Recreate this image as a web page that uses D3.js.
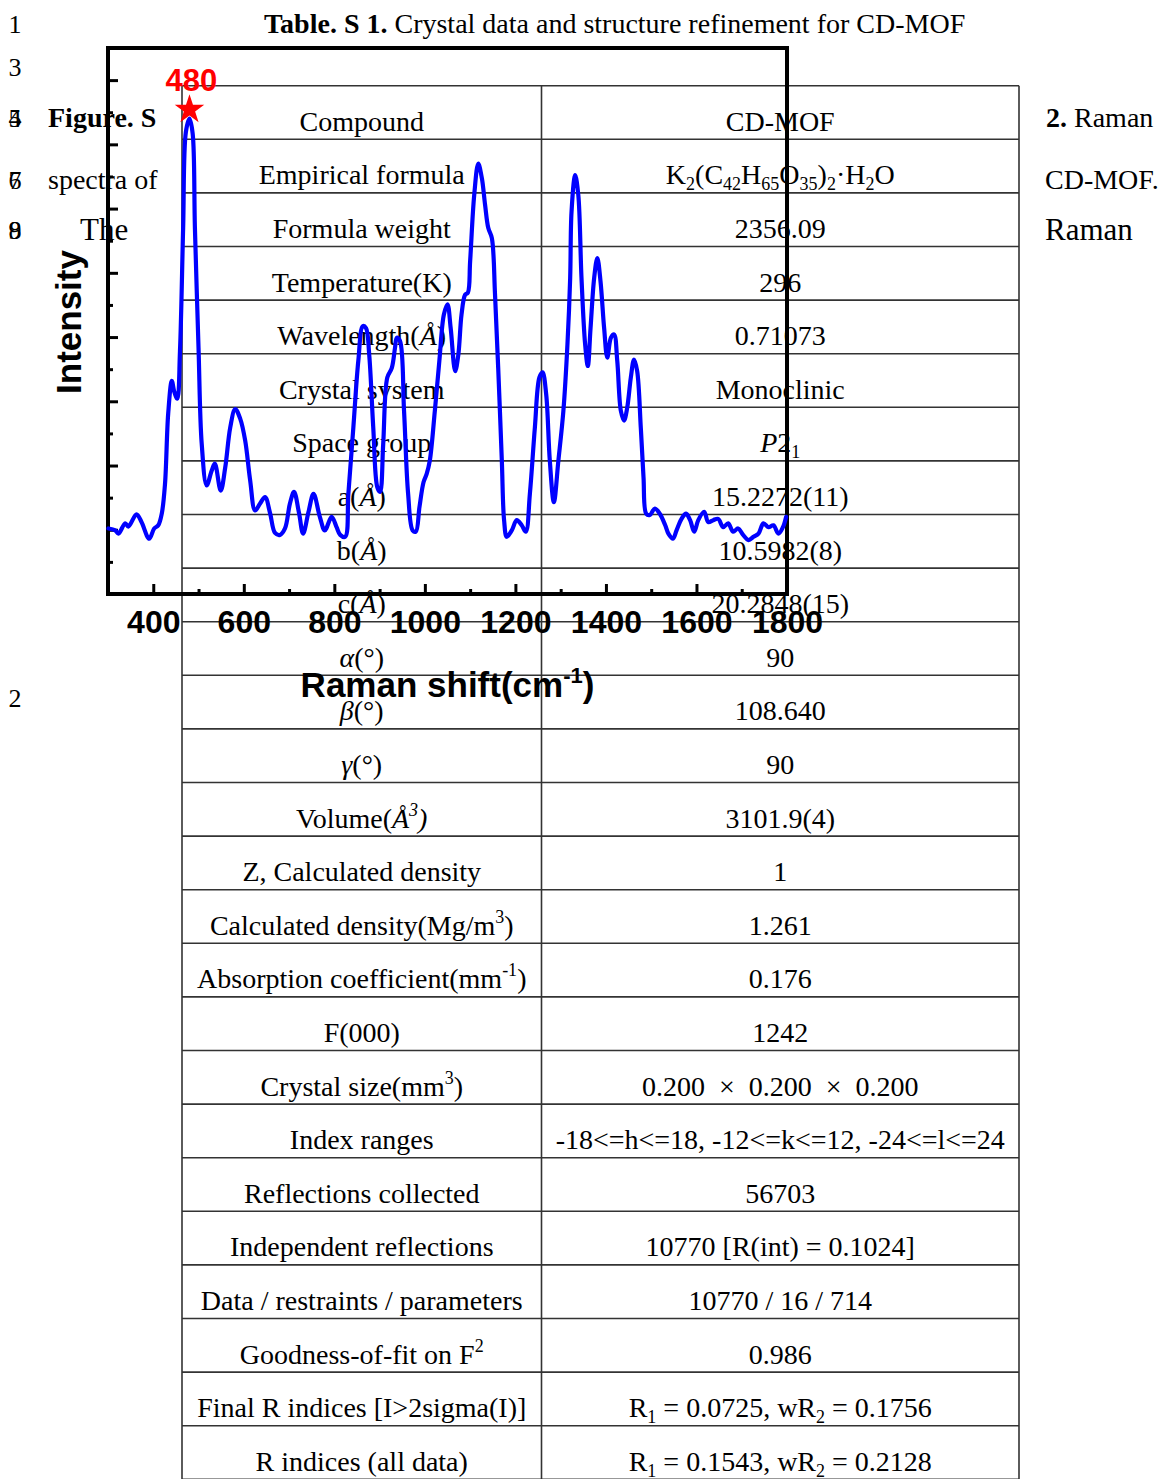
<!DOCTYPE html>
<html>
<head>
<meta charset="utf-8">
<script src="https://cdn.jsdelivr.net/npm/d3@7"></script>
<style>
  body { margin: 0; background: #fff; }
  svg { display: block; }
</style>
</head>
<body>
<svg id="page" width="1162" height="1479"></svg>
<script>
// ---- Raman spectrum of CD-MOF (arbitrary intensity units) ----
const ramanShift = [
  301,316,323,338,345,363,374,391,402,411,
  419,426,433,441,446,453,459,466,472,480,
  487,492,500,507,518,529,536,549,559,570,
  581,592,603,614,625,636,647,658,669,680,
  691,702,711,722,731,743,754,768,779,794,
  805,813,824,831,842,853,863,870,877,886,
  895,901,908,917,927,934,938,945,954,963,
  973,980,988,997,1004,1011,1022,1032,1042,1050,
  1057,1067,1074,1081,1089,1095,1100,1109,1118,1126,
  1133,1140,1148,1155,1162,1170,1175,1181,1192,1203,
  1214,1223,1232,1243,1253,1260,1268,1276,1285,1295,
  1306,1315,1321,1324,1332,1339,1346,1354,1360,1366,
  1374,1381,1388,1396,1403,1411,1418,1425,1433,1440,
  1447,1455,1462,1469,1477,1483,1489,1497,1508,1519,
  1531,1538,1548,1556,1567,1577,1586,1595,1604,1617,
  1626,1637,1648,1659,1670,1681,1692,1703,1715,1726,
  1737,1748,1759,1770,1781,1791,1798
];
const intensity = [
  1.02,0.99,0.94,1.10,1.05,1.24,1.12,0.86,1.02,1.07,
  1.26,1.72,2.81,3.32,3.16,3.04,3.78,5.70,7.19,7.40,
  7.17,5.70,3.83,2.34,1.69,1.92,2.03,1.61,1.97,2.59,
  2.88,2.73,2.39,1.77,1.30,1.41,1.51,1.26,0.95,0.92,
  1.02,1.41,1.59,1.26,0.94,1.28,1.56,1.20,0.99,1.20,
  1.04,0.92,0.89,1.56,2.59,3.63,4.17,4.14,3.73,2.59,
  1.66,1.59,2.34,3.37,3.52,3.83,3.99,3.94,2.85,1.56,
  0.99,0.97,1.35,1.74,1.87,2.08,2.85,3.63,4.35,4.51,
  4.14,3.47,3.73,4.35,4.66,4.69,5.18,6.21,6.70,6.47,
  6.06,5.70,5.54,4.66,3.52,2.08,1.15,0.89,0.99,1.15,
  1.07,0.97,1.56,2.59,3.37,3.45,3.11,2.08,1.43,2.08,
  2.85,3.89,4.92,5.95,6.52,6.21,4.92,3.89,3.55,4.14,
  4.92,5.23,4.87,4.14,3.68,3.99,4.04,3.63,2.85,2.70,
  2.90,3.37,3.65,3.47,2.59,1.82,1.25,1.23,1.33,1.25,
  1.07,0.94,0.86,0.99,1.17,1.25,1.15,0.97,1.15,1.28,
  1.12,1.15,1.17,1.04,1.10,0.97,1.02,0.92,0.84,0.89,
  0.94,1.10,1.04,1.07,0.94,1.04,1.20
];

// Highlighted band
const peakShift = 480;
const peakIntensity = 7.40;

// Axis ticks
const xMajorTicks = [400, 600, 800, 1000, 1200, 1400, 1600, 1800];
const xMinorTicks = [500, 700, 900, 1100, 1300, 1500, 1700];
const yMajorTicks = [1, 2, 3, 4, 5, 6, 7, 8];
const yMinorTicks = [0.5, 1.5, 2.5, 3.5, 4.5, 5.5, 6.5, 7.5];
const xDomain = [300, 1800];
const yDomain = [0, 8.5];
const xTitle = "Raman shift(cm";
const xTitleSup = "-1";
const yTitle = "Intensity";

// ---- Table S1: crystal data (markup: *italic*, _{sub}, ^{sup}) ----
const tableParams = [
  "Compound", "Empirical formula", "Formula weight", "Temperature(K)",
  "Wavelength(*Å*)", "Crystal system", "Space group",
  "a(*Å*)", "b(*Å*)", "c(*Å*)", "*α*(°)", "*β*(°)", "*γ*(°)",
  "Volume(*Å^{3})*", "Z, Calculated density", "Calculated density(Mg/m^{3})",
  "Absorption coefficient(mm^{-1})", "F(000)", "Crystal size(mm^{3})",
  "Index ranges", "Reflections collected", "Independent reflections",
  "Data / restraints / parameters", "Goodness-of-fit on F^{2}",
  "Final R indices [I>2sigma(I)]", "R indices (all data)"
];
const tableValues = [
  "CD-MOF", "K_{2}(C_{42}H_{65}O_{35})_{2}·H_{2}O", "2356.09", "296",
  "0.71073", "Monoclinic", "*P*2_{1}",
  "15.2272(11)", "10.5982(8)", "20.2848(15)", "90", "108.640", "90",
  "3101.9(4)", "1", "1.261", "0.176", "1242",
  "0.200\u00a0\u00a0×\u00a0\u00a00.200\u00a0\u00a0×\u00a0\u00a00.200",
  "-18<=h<=18, -12<=k<=12, -24<=l<=24", "56703", "10770 [R(int) = 0.1024]",
  "10770 / 16 / 714", "0.986",
  "R_{1} = 0.0725, wR_{2} = 0.1756", "R_{1} = 0.1543, wR_{2} = 0.2128"
];

// Surrounding page text: [x, baseline, size, [text, bold]...]
const lineNumbers = [["1", 33], ["3", 76], ["4", 127], ["5", 127], ["6", 189], ["7", 189],
                     ["8", 239], ["9", 239], ["2", 707]];
const titleParts = [["Table. S 1.", true], [" Crystal data and structure refinement for CD-MOF", false]];
const sideTexts = [
  [48, 127, 28, [["Figure. S", true]]],
  [48, 189, 28, [["spectra of", false]]],
  [80, 240, 31, [["The", false]]],
  [1046, 127, 28, [["2.", true], [" Raman", false]]],
  [1045, 189, 28, [["CD-MOF.", false]]],
  [1045, 240, 31, [["Raman", false]]]
];

const svg = d3.select("#page");
const serif = "'Liberation Serif', 'Times New Roman', serif";
const sans = "'Liberation Sans', Arial, sans-serif";

// ---------- page text ----------
const pageG = svg.append("g").attr("font-family", serif).attr("fill", "#000");
pageG.selectAll("text.ln").data(lineNumbers).join("text")
  .attr("class", "ln").attr("x", 15).attr("y", d => d[1])
  .attr("text-anchor", "middle").attr("font-size", 26).text(d => d[0]);

const title = pageG.append("text").attr("x", 264).attr("y", 33).attr("font-size", 28)
  .style("white-space", "pre");
titleParts.forEach(p => title.append("tspan").attr("font-weight", p[1] ? "bold" : "normal").text(p[0]));

sideTexts.forEach(s => {
  const t = pageG.append("text").attr("x", s[0]).attr("y", s[1]).attr("font-size", s[2])
    .style("white-space", "pre");
  s[3].forEach(p => t.append("tspan").attr("font-weight", p[1] ? "bold" : "normal").text(p[0]));
});

// ---------- table ----------
const table = { left: 182, mid: 541.5, right: 1019, top: 85.7, rowH: 53.6 };
const nRows = tableParams.length;
const tG = svg.append("g");
tG.selectAll("line.h").data(d3.range(nRows + 1)).join("line")
  .attr("x1", table.left).attr("x2", table.right)
  .attr("y1", i => table.top + i * table.rowH).attr("y2", i => table.top + i * table.rowH)
  .attr("stroke", "#333").attr("stroke-width", 1.6);
tG.selectAll("line.v").data([table.left, table.mid, table.right]).join("line")
  .attr("x1", d => d).attr("x2", d => d)
  .attr("y1", table.top).attr("y2", table.top + nRows * table.rowH)
  .attr("stroke", "#333").attr("stroke-width", 1.6);

function parseMarkup(str) {
  const segs = [];
  let italic = false, shift = 0, buf = "";
  const flush = () => { if (buf) { segs.push({ text: buf, italic, shift }); buf = ""; } };
  for (let i = 0; i < str.length; i++) {
    const c = str[i];
    if (c === "*") { flush(); italic = !italic; }
    else if ((c === "_" || c === "^") && str[i + 1] === "{") { flush(); shift = c === "_" ? 1 : -1; i++; }
    else if (c === "}" && shift !== 0) { flush(); shift = 0; }
    else buf += c;
  }
  flush();
  return segs;
}

function richText(g, x, y, str) {
  const t = g.append("text").attr("x", x).attr("y", y).attr("text-anchor", "middle")
    .attr("font-family", serif).attr("font-size", 28).attr("fill", "#000")
    .style("white-space", "pre");
  let cur = 0;
  parseMarkup(str).forEach(s => {
    const off = s.shift === 1 ? 6 : s.shift === -1 ? -12 : 0;
    t.append("tspan")
      .attr("dy", off - cur)
      .attr("font-size", s.shift ? 18 : 28)
      .attr("font-style", s.italic ? "italic" : "normal")
      .text(s.text);
    cur = off;
  });
}

tableParams.forEach((p, i) => {
  const yb = table.top + i * table.rowH + 45;
  richText(tG, (table.left + table.mid) / 2, yb, p);
  richText(tG, (table.mid + table.right) / 2, yb, tableValues[i]);
});

// ---------- Raman chart (drawn over the page) ----------
const plot = { left: 108, right: 787, top: 48, bottom: 594 };
const x = d3.scaleLinear().domain(xDomain).range([plot.left, plot.right]);
const y = d3.scaleLinear().domain(yDomain).range([plot.bottom, plot.top]);
const cG = svg.append("g");

// bottom axis: major ticks with labels, minor ticks without
const xMajor = cG.append("g").attr("transform", `translate(0,${plot.bottom})`)
  .call(d3.axisBottom(x).tickValues(xMajorTicks).tickSize(-10).tickPadding(16).tickFormat(d3.format("d")));
const xMinor = cG.append("g").attr("transform", `translate(0,${plot.bottom})`)
  .call(d3.axisBottom(x).tickValues(xMinorTicks).tickSize(-5).tickFormat(""));
const yMajor = cG.append("g").attr("transform", `translate(${plot.left},0)`)
  .call(d3.axisLeft(y).tickValues(yMajorTicks).tickSize(-10).tickFormat(""));
const yMinor = cG.append("g").attr("transform", `translate(${plot.left},0)`)
  .call(d3.axisLeft(y).tickValues(yMinorTicks).tickSize(-5).tickFormat(""));
[xMajor, xMinor, yMajor, yMinor].forEach(a => {
  a.select(".domain").remove();
  a.selectAll(".tick line").attr("stroke", "#000").attr("stroke-width", 3);
});
xMajor.selectAll(".tick text")
  .attr("font-family", sans).attr("font-weight", "bold").attr("font-size", 32).attr("fill", "#000");

// frame
cG.append("rect")
  .attr("x", plot.left).attr("y", plot.top)
  .attr("width", plot.right - plot.left).attr("height", plot.bottom - plot.top)
  .attr("fill", "none").attr("stroke", "#000").attr("stroke-width", 4);

// spectrum
const spectrum = ramanShift.map((s, i) => ({ s, v: intensity[i] }));
cG.append("path").datum(spectrum)
  .attr("fill", "none").attr("stroke", "#0000ff").attr("stroke-width", 4.2)
  .attr("stroke-linejoin", "round").attr("stroke-linecap", "round")
  .attr("d", d3.line().x(d => x(d.s)).y(d => y(d.v)).curve(d3.curveCatmullRom.alpha(0.5)));

// peak marker
cG.append("path")
  .attr("d", d3.symbol().type(d3.symbolStar).size(270)())
  .attr("transform", `translate(${x(peakShift)},${y(peakIntensity) - 9})`)
  .attr("fill", "#ff0000");
cG.append("text")
  .attr("x", x(peakShift) + 2).attr("y", y(peakIntensity) - 28)
  .attr("text-anchor", "middle")
  .attr("font-family", sans).attr("font-weight", "bold").attr("font-size", 31)
  .attr("fill", "#ff0000").text(String(peakShift));

// axis titles
const xt = cG.append("text")
  .attr("x", (plot.left + plot.right) / 2).attr("y", 697)
  .attr("text-anchor", "middle")
  .attr("font-family", sans).attr("font-weight", "bold").attr("font-size", 35).attr("fill", "#000");
xt.append("tspan").text(xTitle);
xt.append("tspan").attr("dy", -14).attr("font-size", 22).text(xTitleSup);
xt.append("tspan").attr("dy", 14).text(")");

cG.append("text")
  .attr("transform", `translate(81,${322}) rotate(-90)`)
  .attr("text-anchor", "middle")
  .attr("font-family", sans).attr("font-weight", "bold").attr("font-size", 35).attr("fill", "#000")
  .text(yTitle);
</script>
</body>
</html>
